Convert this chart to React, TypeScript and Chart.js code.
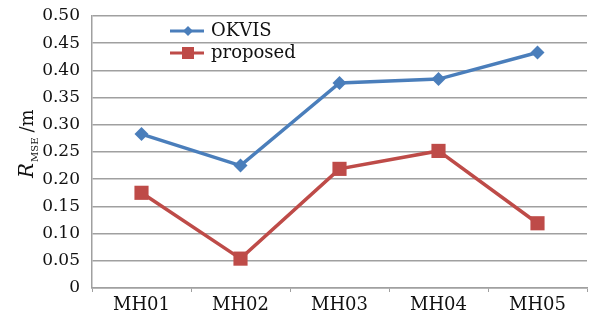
import React, { useEffect, useRef } from "react";
import { Chart, registerables } from "chart.js";

Chart.register(...registerables);

const categories = ["MH01", "MH02", "MH03", "MH04", "MH05"];
const okvis = [0.283, 0.225, 0.377, 0.384, 0.433];
const proposed = [0.175, 0.054, 0.219, 0.252, 0.119];
const seriesNames = ["OKVIS", "proposed"];
const yTicks = ["0", "0.05", "0.10", "0.15", "0.20", "0.25", "0.30", "0.35", "0.40", "0.45", "0.50"];

const BLUE = "#4A7EBB";
const RED = "#BE4B48";
const FONT = "'DejaVu Serif', serif";

export default function App() {
  const ref = useRef<HTMLCanvasElement>(null);
  useEffect(() => {
    if (!ref.current) return;
    const overlay = {
      id: "overlay",
      afterDraw(chart: any) {
        const ctx = chart.ctx;
        ctx.save();
        const items = [
          { name: seriesNames[0], color: BLUE, shape: "diamond", y: 31 },
          { name: seriesNames[1], color: RED, shape: "square", y: 53 },
        ];
        for (const it of items) {
          ctx.strokeStyle = it.color;
          ctx.fillStyle = it.color;
          ctx.lineWidth = 3;
          ctx.beginPath();
          ctx.moveTo(170, it.y);
          ctx.lineTo(204, it.y);
          ctx.stroke();
          const cx = 188;
          if (it.shape === "diamond") {
            ctx.beginPath();
            ctx.moveTo(cx, it.y - 5);
            ctx.lineTo(cx + 5, it.y);
            ctx.lineTo(cx, it.y + 5);
            ctx.lineTo(cx - 5, it.y);
            ctx.closePath();
            ctx.fill();
          } else {
            ctx.fillRect(cx - 6, it.y - 6, 12, 12);
          }
          ctx.fillStyle = "#111";
          ctx.font = `18px ${FONT}`;
          ctx.textAlign = "left";
          ctx.textBaseline = "middle";
          ctx.fillText(it.name, 211, it.y);
        }
        ctx.translate(27, 178);
        ctx.rotate(-Math.PI / 2);
        ctx.fillStyle = "#111";
        ctx.textBaseline = "alphabetic";
        ctx.textAlign = "left";
        ctx.font = `italic 20px ${FONT}`;
        ctx.fillText("R", 0, 6);
        let x = ctx.measureText("R").width;
        ctx.font = `10px ${FONT}`;
        ctx.fillText("MSE", x + 1, 11);
        x += ctx.measureText("MSE").width + 6;
        ctx.font = `18px ${FONT}`;
        ctx.fillText("/m", x, 6);
        ctx.restore();
      },
    };
    const chart = new Chart(ref.current, {
      type: "line",
      data: {
        labels: categories,
        datasets: [
          {
            label: seriesNames[0],
            data: okvis,
            borderColor: BLUE,
            backgroundColor: BLUE,
            borderWidth: 3.5,
            pointStyle: "rectRot",
            pointRadius: 7,
            pointBorderWidth: 0,
            tension: 0,
          },
          {
            label: seriesNames[1],
            data: proposed,
            borderColor: RED,
            backgroundColor: RED,
            borderWidth: 3.5,
            pointStyle: "rect",
            pointRadius: 10,
            pointBorderWidth: 0,
            tension: 0,
          },
        ],
      },
      options: {
        animation: false,
        responsive: false,
        layout: { padding: { top: 16, right: 1, left: 0, bottom: 0 } },
        plugins: { legend: { display: false }, tooltip: { enabled: false } },
        scales: {
          x: {
            offset: true,
            grid: {
              offset: true,
              drawOnChartArea: false,
              drawTicks: true,
              tickLength: 4,
              color: "#A0A0A0",
              lineWidth: 1,
            },
            border: { color: "#A0A0A0", width: 1.5 },
            ticks: { color: "#111", font: { family: FONT, size: 18 }, padding: 3, maxRotation: 0 },
            afterFit(s: any) {
              s.height = 32;
            },
          },
          y: {
            min: 0,
            max: 0.5,
            grid: { color: "#A0A0A0", lineWidth: 1.5, drawTicks: false },
            border: { color: "#A0A0A0", width: 1.5 },
            ticks: {
              stepSize: 0.05,
              color: "#111",
              font: { family: FONT, size: 17 },
              padding: 12,
              callback: (_v: any, i: number) => yTicks[i],
            },
            afterFit(s: any) {
              s.width = 92;
              s.paddingTop = 0;
              s.paddingBottom = 0;
            },
          },
        },
      },
      plugins: [overlay],
    });
    return () => chart.destroy();
  }, []);
  return (
    <div style={{ position: "fixed", left: 0, top: 0, width: 597, height: 320, background: "#fff" }}>
      <canvas ref={ref} width={597} height={320} style={{ width: 597, height: 320 }} />
    </div>
  );
}
